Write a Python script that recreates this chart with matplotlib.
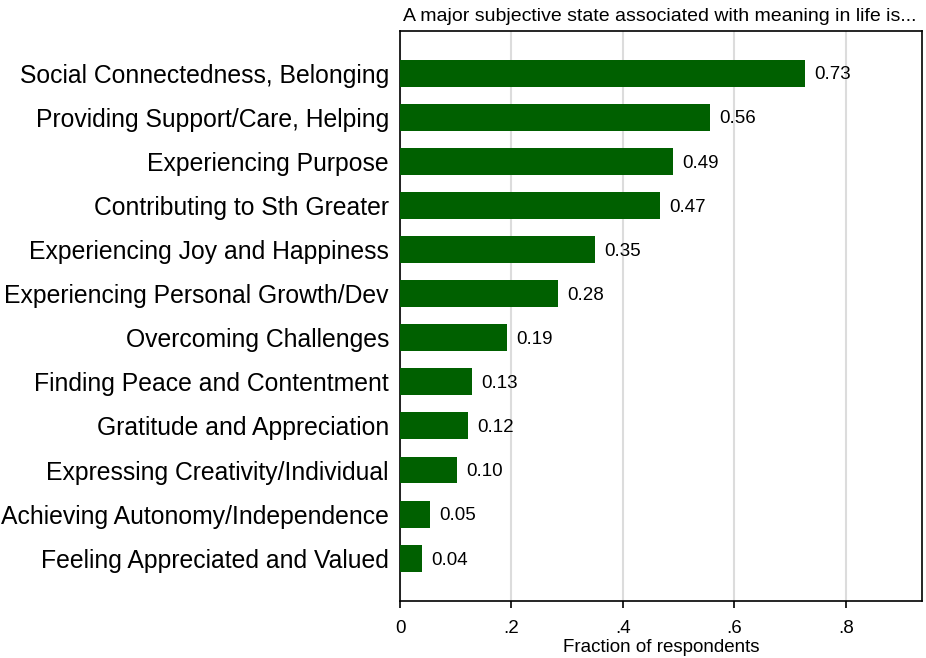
import numpy as np
import matplotlib.pyplot as plt

plt.rcParams["font.family"] = ["Liberation Sans", "DejaVu Sans"]

categories = [
    "Social Connectedness, Belonging",
    "Providing Support/Care, Helping",
    "Experiencing Purpose",
    "Contributing to Sth Greater",
    "Experiencing Joy and Happiness",
    "Experiencing Personal Growth/Dev",
    "Overcoming Challenges",
    "Finding Peace and Contentment",
    "Gratitude and Appreciation",
    "Expressing Creativity/Individual",
    "Achieving Autonomy/Independence",
    "Feeling Appreciated and Valued",
]
fractions = [0.727, 0.556, 0.490, 0.466, 0.350, 0.283, 0.192, 0.129, 0.122, 0.102, 0.054, 0.039]
xticks = [0, 0.2, 0.4, 0.6, 0.8]
xtick_labels = ["0", ".2", ".4", ".6", ".8"]

fig = plt.figure(figsize=(9.26, 6.58), dpi=100)
ax = fig.add_axes([0.432, 0.0866, 0.5637, 0.866])

y = np.arange(len(categories))
ax.barh(y, fractions, height=0.61, color="#006000", zorder=3)

# value labels to the right of each bar
for yi, v in zip(y, fractions):
    ax.text(v + 0.017, yi + 0.04, f"{v:.2f}", va="center", ha="left", fontsize=13.5, zorder=4)

ax.set_yticks(y)
ax.set_yticklabels(categories, fontsize=17.8)
ax.tick_params(axis="y", length=0, pad=8)
ax.set_ylim(len(categories) - 1 + 0.97, -0.95)

ax.set_xlim(0, 0.937)
ax.set_xticks(xticks)
ax.set_xticklabels(xtick_labels, fontsize=13.5)
ax.tick_params(axis="x", length=5, width=1.2, pad=9)
ax.grid(axis="x", color="#dcdcdc", linewidth=1.5, zorder=0)

for s in ax.spines.values():
    s.set_linewidth(1.2)
    s.set_color("black")

ax.set_xlabel("Fraction of respondents", fontsize=13.5, labelpad=1)
ax.set_title("A major subjective state associated with meaning in life is...",
             loc="left", fontsize=14, pad=7, x=0.005)

fig.savefig("out.png", dpi=100)
